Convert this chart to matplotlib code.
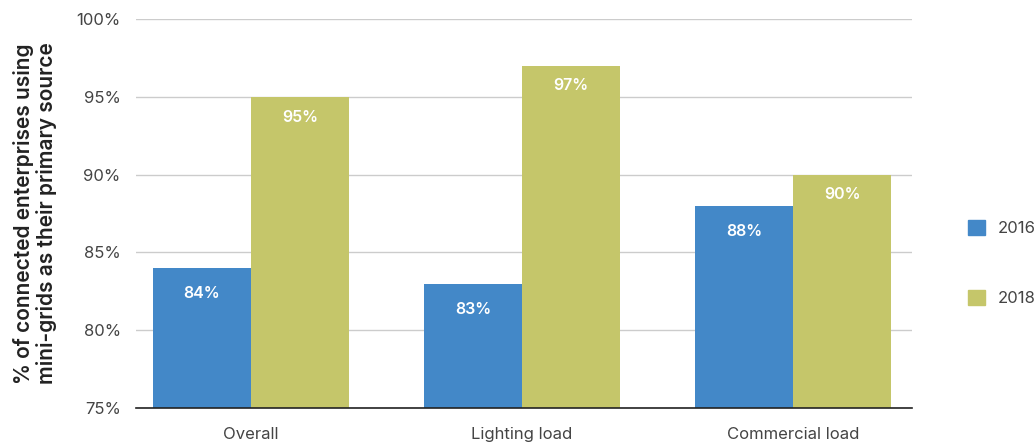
import numpy as np
import matplotlib
matplotlib.use("Agg")
import matplotlib.pyplot as plt
from matplotlib.patches import Patch

plt.rcParams['font.family'] = ['Inter', 'DejaVu Sans']

categories = ["Overall", "Lighting load", "Commercial load"]
years = ["2016", "2018"]
share_2016 = [84, 83, 88]
share_2018 = [95, 97, 90]
yticks = [75, 80, 85, 90, 95, 100]

blue = "#4388c8"
green = "#c5c66a"

fig = plt.figure(figsize=(10.36, 4.47), dpi=100)
ax = fig.add_axes([136 / 1036, 1 - 408 / 447, (912 - 136) / 1036, (408 - 19) / 447])

x = np.arange(len(categories))
w = 0.362
bars_a = ax.bar(x - w / 2, share_2016, w, color=blue, zorder=3)
bars_b = ax.bar(x + w / 2, share_2018, w, color=green, zorder=3)

# value labels sit just inside the top of each bar
for bars, vals, drop in ((bars_a, share_2016, 1.65), (bars_b, share_2018, 1.3)):
    for b, v in zip(bars, vals):
        ax.text(b.get_x() + b.get_width() / 2, v - drop, f"{v}%",
                ha="center", va="center", color="white", fontsize=11.5,
                fontweight="semibold", zorder=4)

ax.set_ylim(75, 100)
ax.set_xlim(-0.424, 2.439)
ax.set_yticks(yticks)
ax.set_yticklabels([f"{t}%" for t in yticks])
ax.set_xticks(x)
ax.set_xticklabels(categories)
ax.grid(axis="y", color="#cccccc", linewidth=1, zorder=0)
for s in ("top", "right", "left"):
    ax.spines[s].set_visible(False)
ax.spines["bottom"].set_color("#222222")
ax.spines["bottom"].set_linewidth(1.2)
ax.spines["bottom"].set_zorder(5)
ax.tick_params(axis="both", length=0, labelsize=12, colors="#444444")
ax.tick_params(axis="y", pad=11)
ax.tick_params(axis="x", pad=14)
ax.set_ylabel("% of connected enterprises using\nmini-grids as their primary source",
              fontsize=15, fontweight="semibold", color="#222222",
              linespacing=1.1, labelpad=14)

handles = [Patch(color=blue), Patch(color=green)]
fig.legend(handles, years, loc="center left", bbox_to_anchor=(953 / 1036, 1 - 263 / 447),
           frameon=False, fontsize=12, handlelength=1.0, handleheight=1.0,
           labelspacing=3.2, labelcolor="#444444")

fig.savefig("out.png", dpi=100)
